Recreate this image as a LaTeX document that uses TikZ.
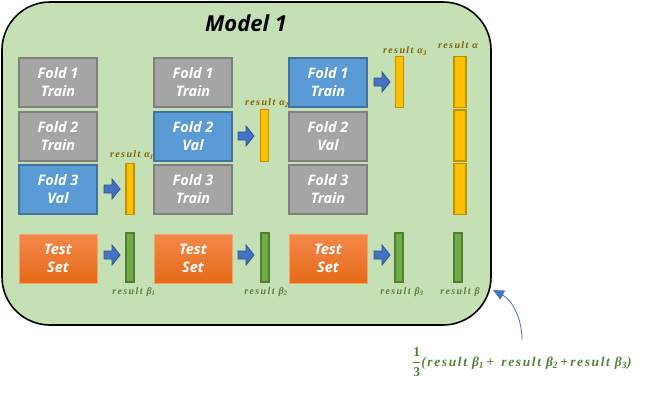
\documentclass[tikz,border=0pt]{standalone}
\usepackage{amsmath}
\usepackage{fontspec}
\setsansfont{Open Sans}
\newfontfamily\labfont{Liberation Serif}[LetterSpace=14]
\newfontfamily\frmfont{Liberation Serif}[LetterSpace=12]
\usetikzlibrary{arrows.meta}
\definecolor{bgG}{HTML}{C5E0B4}
\definecolor{grayF}{HTML}{A5A5A5}
\definecolor{grayB}{HTML}{7F7F7F}
\definecolor{blueF}{HTML}{5B9BD5}
\definecolor{blueB}{HTML}{41719C}
\definecolor{orTop}{HTML}{F4894B}
\definecolor{orBot}{HTML}{E56A18}
\definecolor{orB}{HTML}{F4A36B}
\definecolor{arrF}{HTML}{4472C4}
\definecolor{arrB}{HTML}{2F528F}
\definecolor{yelF}{HTML}{FFC000}
\definecolor{yelB}{HTML}{BF9000}
\definecolor{grnF}{HTML}{70AD47}
\definecolor{grnB}{HTML}{507E32}
\definecolor{alabel}{HTML}{7F6000}
\definecolor{blabel}{HTML}{548235}
\begin{document}
\begin{tikzpicture}[x=1pt,y=-1pt,
  foldbox/.style={draw=grayB, fill=grayF, line width=1.5pt, minimum width=78pt, minimum height=49pt, inner sep=0pt,
    font=\sffamily\bfseries\itshape\fontsize{14.5}{18}\selectfont, text=white, align=center},
  valbox/.style={foldbox, draw=blueB, fill=blueF},
  testbox/.style={foldbox, draw=orB, line width=1pt, top color=orTop, bottom color=orBot},
  ybar/.style={draw=yelB, fill=yelF, line width=1.3pt, minimum width=8pt, minimum height=50pt, inner sep=0pt},
  gbar/.style={draw=grnB, fill=grnF, line width=1.3pt, minimum width=8pt, minimum height=49pt, inner sep=0pt},
  alab/.style={text=alabel, font=\labfont\bfseries\itshape\fontsize{10}{11}\selectfont, inner sep=0pt},
  blab/.style={alab, text=blabel},
  blkarrow/.pic={\draw[fill=arrF, draw=arrB, line width=0.8pt] (0,-4) -- (8,-4) -- (8,-10) -- (16,0) -- (8,10) -- (8,4) -- (0,4) -- cycle;}
]
\useasboundingbox (0,0) rectangle (647,402);
% model container
\draw[fill=bgG, line width=1.6pt, rounded corners=48pt] (2,2) rectangle (491,325);
\node[font=\sffamily\bfseries\itshape\fontsize{22}{26}\selectfont, inner sep=0pt] (title) at (246,23) {Model 1};
% column 1
\node[foldbox] (c1f1) at (58,82.5) {Fold 1\\Train};
\node[foldbox] (c1f2) at (58,136.5) {Fold 2\\Train};
\node[valbox] (c1f3) at (58,189.5) {Fold 3\\Val};
\node[testbox] (c1t) at (58,258.5) {Test\\Set};
% column 2
\node[foldbox] (c2f1) at (193,82.5) {Fold 1\\Train};
\node[valbox] (c2f2) at (193,136.5) {Fold 2\\Val};
\node[foldbox] (c2f3) at (193,189.5) {Fold 3\\Train};
\node[testbox] (c2t) at (193,258.5) {Test\\Set};
% column 3
\node[valbox] (c3f1) at (328,82.5) {Fold 1\\Train};
\node[foldbox] (c3f2) at (328,136.5) {Fold 2\\Val};
\node[foldbox] (c3f3) at (328,189.5) {Fold 3\\Train};
\node[testbox] (c3t) at (328,258.5) {Test\\Set};
% block arrows
\pic at (104,189) {blkarrow};
\pic at (238,136) {blkarrow};
\pic at (374,82) {blkarrow};
\pic at (104,255) {blkarrow};
\pic at (238,255) {blkarrow};
\pic at (374,255) {blkarrow};
% alpha bars
\node[ybar, minimum height=51pt] (a1) at (130,189) {};
\node[ybar, minimum height=52pt] (a2) at (264.5,135.5) {};
\node[ybar, minimum height=51pt] (a3) at (399.5,82) {};
\node[ybar, minimum width=12pt, minimum height=51pt] (af1) at (460,82) {};
\node[ybar, minimum width=12pt, minimum height=51pt] (af2) at (460,135.5) {};
\node[ybar, minimum width=12pt, minimum height=51pt] (af3) at (460,189) {};
\node[alab] (la1) at (132,155) {result α\textsubscript{1}};
\node[alab] (la2) at (267,103) {result α\textsubscript{2}};
\node[alab] (la3) at (405,51) {result α\textsubscript{3}};
\node[alab] (la) at (458,45) {result α};
% beta bars
\node[gbar] (b1) at (130,257.5) {};
\node[gbar] (b2) at (265,257.5) {};
\node[gbar] (b3) at (399,257.5) {};
\node[gbar] (bf) at (458,257.5) {};
\node[blab] (lb1) at (134,292) {result β\textsubscript{1}};
\node[blab] (lb2) at (266,292) {result β\textsubscript{2}};
\node[blab] (lb3) at (402,292) {result β\textsubscript{3}};
\node[blab] (lb) at (460,292) {result β};
% formula and curved arrow
\node[text=blabel, font=\frmfont\bfseries\fontsize{13.5}{15}\selectfont, inner sep=0pt, anchor=west] (formula) at (412,362)
  {$\displaystyle\genfrac{}{}{0.7pt}{0}{\mbox{\frmfont\bfseries 1}}{\mbox{\frmfont\bfseries 3}}$\itshape(result β\textsubscript{1}\,+\ \,result β\textsubscript{2}\,+\,result β\textsubscript{3})};
\coordinate (cstart) at (522,340);
\coordinate (ctip) at (493,290);
\draw[arrF, line width=0.8pt, -{Triangle[length=11pt,width=10pt]}] (cstart) .. controls (522,318) and (512,300) .. (ctip);
\end{tikzpicture}
\end{document}
